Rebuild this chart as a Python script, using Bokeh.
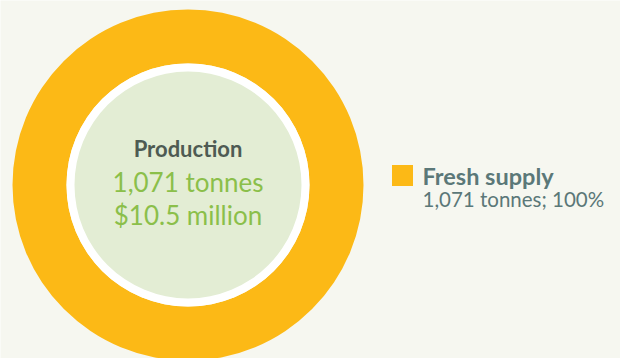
import math
from bokeh.plotting import figure
from bokeh.models import Range1d, ColumnDataSource
from bokeh.core.properties import value
from bokeh.embed import file_html
from bokeh.resources import INLINE

# Data
categories = ["Fresh supply"]
tonnes = [1071]
shares = [100]
colors = ["#fcb916"]
center_title = "Production"
center_lines = ["1,071 tonnes", "$10.5 million"]

W, H = 620, 358
BG = "#f6f7f0"
p = figure(width=W, height=H, output_backend="svg", toolbar_location=None,
           x_range=Range1d(0, W), y_range=Range1d(H, 0), min_border=0,
           background_fill_color=BG, border_fill_color=BG)
p.axis.visible = False
p.grid.visible = False
p.outline_line_color = None

cx, cy = 187.5, 184.5
r_out, r_in = 175.5, 121.5

# wedges from shares
starts, ends = [], []
acc = 0.0
for s in shares:
    a0 = math.pi / 2 - 2 * math.pi * acc / 100.0
    acc += s
    a1 = math.pi / 2 - 2 * math.pi * acc / 100.0
    starts.append(a0)
    ends.append(a1)

src = ColumnDataSource(dict(x=[cx] * len(shares), y=[cy] * len(shares),
                            start=starts, end=ends, color=colors))
full = [abs(e - s) >= 2 * math.pi - 1e-9 for s, e in zip(starts, ends)]
if all(full):
    p.annulus(x=[cx], y=[cy], inner_radius=r_in, outer_radius=r_out,
              fill_color=colors[0], line_color=None)
else:
    p.annular_wedge(x="x", y="y", inner_radius=r_in, outer_radius=r_out,
                    start_angle="start", end_angle="end", direction="clock",
                    fill_color="color", line_color=None, source=src)

# white ring and green disc
p.circle(x=[cx], y=[cy], radius=r_in, fill_color="white", line_color=None)
p.circle(x=[cx], y=[cy], radius=113.5, fill_color="#e3edd4", line_color=None)

dy = -10
p.text(x=[cx], y=[158 + dy], text=[center_title], text_align="center",
       text_baseline="alphabetic", text_font=value("Lato"), text_font_style="bold",
       text_font_size="22px", text_color="#4e5b53")
p.text(x=[cx, cx], y=[191 + dy, 224 + dy], text=center_lines, text_align="center",
       text_baseline="alphabetic", text_font=value("Lato"),
       text_font_size="26px", text_color="#8bbf4a")

# legend
lx, ly = 391.5, 164
for i, (c, cat, t, s) in enumerate(zip(colors, categories, tonnes, shares)):
    p.rect(x=[lx + 10.5], y=[ly + 11], width=21, height=21, fill_color=c, line_color=None)
    p.text(x=[422], y=[183 - 8], text=[cat], text_align="left", text_baseline="alphabetic",
           text_font=value("Lato"), text_font_style="bold", text_font_size="23.5px",
           text_color="#5b7878")
    p.text(x=[422], y=[205 - 7], text=[f"{t:,} tonnes; {s}%"], text_align="left",
           text_baseline="alphabetic", text_font=value("Lato"), text_font_size="20.5px",
           text_color="#5b7878")

open("out.html", "w").write(file_html(p, INLINE))
